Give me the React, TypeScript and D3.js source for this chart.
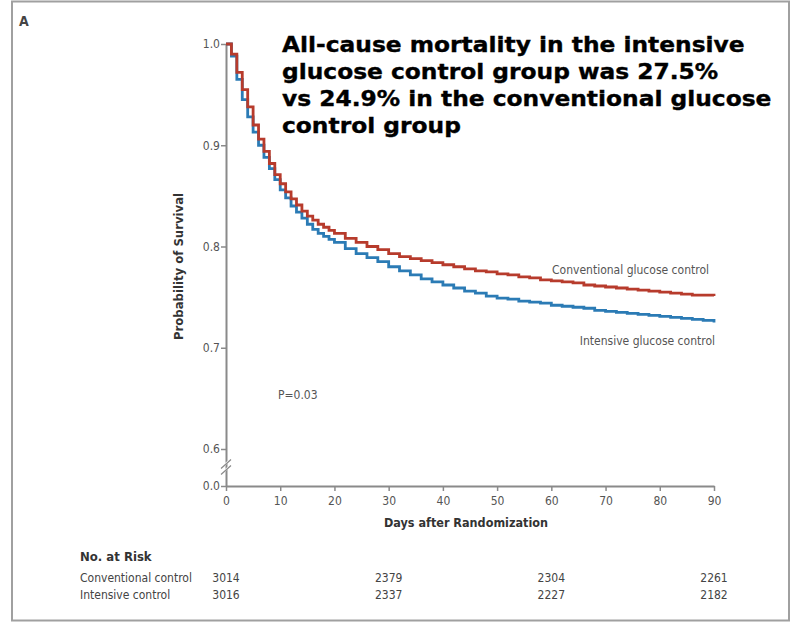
import { useEffect, useRef } from "react";
import * as d3 from "d3";

const days = [
  0, 1, 2, 3, 4, 5, 6, 7, 8, 9, 10, 11, 12, 13, 14, 15, 16, 17, 18, 19, 20,
  22, 24, 26, 28, 30, 32, 34, 36, 38, 40, 42, 44, 46, 48, 50, 52, 54, 56, 58,
  60, 62, 64, 66, 68, 70, 72, 74, 76, 78, 80, 82, 84, 86, 88, 90,
];

const conventional = [
  1.0, 0.99, 0.972, 0.955, 0.938, 0.92, 0.906, 0.894, 0.882, 0.871, 0.862,
  0.854, 0.847, 0.841, 0.835, 0.83, 0.826, 0.822, 0.819, 0.816, 0.813,
  0.808, 0.804, 0.8, 0.797, 0.793, 0.79, 0.788, 0.786, 0.784, 0.782, 0.78,
  0.778, 0.776, 0.775, 0.773, 0.772, 0.77, 0.769, 0.767, 0.766, 0.765, 0.764,
  0.762, 0.761, 0.76, 0.759, 0.758, 0.757, 0.756, 0.755, 0.754, 0.753, 0.752,
  0.752, 0.751,
];

const intensive = [
  1.0, 0.988, 0.965, 0.945, 0.928, 0.913, 0.9, 0.888, 0.877, 0.866, 0.856,
  0.848, 0.84, 0.834, 0.828, 0.822, 0.817, 0.813, 0.81, 0.807, 0.804,
  0.798, 0.793, 0.789, 0.785, 0.78, 0.776, 0.772, 0.768, 0.765, 0.762, 0.759,
  0.756, 0.754, 0.751, 0.749, 0.748, 0.746, 0.745, 0.744, 0.742, 0.741, 0.74,
  0.739, 0.737, 0.736, 0.735, 0.734, 0.733, 0.732, 0.731, 0.73, 0.729, 0.728,
  0.727, 0.725,
];

const xTicks = [0, 10, 20, 30, 40, 50, 60, 70, 80, 90];
const yTicks = [0, 0.6, 0.7, 0.8, 0.9, 1.0];

const riskDays = [0, 30, 60, 90];
const riskConventional = [3014, 2379, 2304, 2261];
const riskIntensive = [3016, 2337, 2227, 2182];

const titleLines = [
  "All-cause mortality in the intensive",
  "glucose control group was 27.5%",
  "vs 24.9% in the conventional glucose",
  "control group",
];

const FONT = "'DejaVu Sans Condensed', 'DejaVu Sans', sans-serif";
const RED = "#b73b2c";
const BLUE = "#2b7bb5";
const AXIS = "#8a8a8a";

export default function App() {
  const svgRef = useRef<SVGSVGElement>(null);

  useEffect(() => {
    if (!svgRef.current) return;
    const svg = d3.select(svgRef.current);
    svg.selectAll("*").remove();

    // outer frame
    svg
      .append("rect")
      .attr("x", 12)
      .attr("y", 1.5)
      .attr("width", 777)
      .attr("height", 619)
      .attr("fill", "#fff")
      .attr("stroke", "#a0a0a0")
      .attr("stroke-width", 2);

    svg
      .append("text")
      .attr("x", 19)
      .attr("y", 26)
      .attr("font-family", FONT)
      .attr("font-weight", "bold")
      .attr("font-size", 14)
      .attr("fill", "#444")
      .text("A");

    const xScale = d3.scaleLinear().domain([0, 90]).range([226, 714]);
    // broken axis: 0.0 sits just below the 0.6 tick
    const yScale = d3
      .scaleLinear()
      .domain([0, 0.6, 1.0])
      .range([486, 449, 44]);

    const xAxis = svg
      .append("g")
      .attr("transform", `translate(0,486)`)
      .call(d3.axisBottom(xScale).tickValues(xTicks).tickSize(5).tickSizeOuter(0).tickFormat(d3.format("d")));
    xAxis.select(".domain").attr("stroke", AXIS).attr("stroke-width", 2);
    xAxis.selectAll(".tick line").attr("stroke", AXIS).attr("stroke-width", 1.5);
    xAxis
      .selectAll(".tick text")
      .attr("font-family", FONT)
      .attr("font-size", 12)
      .attr("fill", "#555")
      .attr("dy", "0.95em");

    const yAxis = svg
      .append("g")
      .attr("transform", `translate(226,0)`)
      .call(d3.axisLeft(yScale).tickValues(yTicks).tickSize(5).tickSizeOuter(0).tickFormat(d3.format(".1f")));
    yAxis.select(".domain").attr("stroke", AXIS).attr("stroke-width", 2);
    yAxis.selectAll(".tick line").attr("stroke", AXIS).attr("stroke-width", 1.5);
    yAxis
      .selectAll(".tick text")
      .attr("font-family", FONT)
      .attr("font-size", 12)
      .attr("fill", "#555")
      .attr("x", -6);

    // axis break marks
    const breakY = (yScale(0) + yScale(0.6)) / 2;
    [-3, 3].forEach(off => {
      svg
        .append("line")
        .attr("x1", 220)
        .attr("y1", breakY + off + 4)
        .attr("x2", 232)
        .attr("y2", breakY + off - 6)
        .attr("stroke", "#fff")
        .attr("stroke-width", 2);
    });
    [-3, 3].forEach(off => {
      svg
        .append("line")
        .attr("x1", 221)
        .attr("y1", breakY + off + 4)
        .attr("x2", 231)
        .attr("y2", breakY + off - 5)
        .attr("stroke", AXIS)
        .attr("stroke-width", 1.2);
    });

    // axis titles
    svg
      .append("text")
      .attr("transform", `translate(183,${yScale(0.8) + 20}) rotate(-90)`)
      .attr("text-anchor", "middle")
      .attr("font-family", FONT)
      .attr("font-weight", "bold")
      .attr("font-size", 13)
      .attr("fill", "#333")
      .text("Probability of Survival");

    svg
      .append("text")
      .attr("x", xScale(45) - 4)
      .attr("y", 527)
      .attr("text-anchor", "middle")
      .attr("font-family", FONT)
      .attr("font-weight", "bold")
      .attr("font-size", 12.5)
      .attr("fill", "#333")
      .text("Days after Randomization");

    // survival curves
    const line = d3
      .line<number>()
      .x((_, i) => xScale(days[i]))
      .y(d => yScale(d))
      .curve(d3.curveStepAfter);

    svg
      .append("path")
      .datum(intensive)
      .attr("fill", "none")
      .attr("stroke", BLUE)
      .attr("stroke-width", 2.8)
      .attr("d", line);

    svg
      .append("path")
      .datum(conventional)
      .attr("fill", "none")
      .attr("stroke", RED)
      .attr("stroke-width", 2.8)
      .attr("d", line);

    const labels = svg.append("g").attr("font-family", FONT).attr("font-size", 12).attr("fill", "#555");
    labels
      .append("text")
      .attr("x", 709)
      .attr("y", 274)
      .attr("text-anchor", "end")
      .text("Conventional glucose control");
    labels
      .append("text")
      .attr("x", 715)
      .attr("y", 345)
      .attr("text-anchor", "end")
      .text("Intensive glucose control");
    labels
      .append("text")
      .attr("x", 278)
      .attr("y", 399)
      .text("P=0.03");

    // annotation, stretched to the heavy wide face of the original
    const note = svg.append("g");
    note
      .selectAll("text")
      .data(titleLines)
      .enter()
      .append("text")
      .attr("x", 0)
      .attr("y", (_, i) => 52 + i * 27)
      .attr("font-family", "'DejaVu Sans', sans-serif")
      .attr("font-weight", "bold")
      .attr("font-size", 21)
      .attr("fill", "#000")
      .attr("stroke", "#000")
      .attr("stroke-width", 0.35)
      .text(d => d);
    const first = note.select<SVGTextElement>("text").node();
    const w = first ? first.getComputedTextLength() : 463;
    note.attr("transform", `translate(282,0) scale(${463 / w},1)`);

    // number at risk table
    const table = svg.append("g").attr("font-family", FONT).attr("fill", "#444");
    table
      .append("text")
      .attr("x", 80)
      .attr("y", 561)
      .attr("font-weight", "bold")
      .attr("font-size", 13)
      .attr("fill", "#333")
      .text("No. at Risk");
    table
      .append("text")
      .attr("x", 80)
      .attr("y", 582)
      .attr("font-size", 12)
      .text("Conventional control");
    table
      .append("text")
      .attr("x", 80)
      .attr("y", 599)
      .attr("font-size", 12)
      .text("Intensive control");
    table
      .selectAll(".rc")
      .data(riskConventional)
      .enter()
      .append("text")
      .attr("class", "rc")
      .attr("x", (_, i) => xScale(riskDays[i]))
      .attr("y", 582)
      .attr("text-anchor", "middle")
      .attr("font-size", 12)
      .text(d => d);
    table
      .selectAll(".ri")
      .data(riskIntensive)
      .enter()
      .append("text")
      .attr("class", "ri")
      .attr("x", (_, i) => xScale(riskDays[i]))
      .attr("y", 599)
      .attr("text-anchor", "middle")
      .attr("font-size", 12)
      .text(d => d);
  }, []);

  return (
    <svg
      ref={svgRef}
      width={798}
      height={625}
      style={{ position: "absolute", left: 0, top: 0, background: "#fff" }}
    />
  );
}
